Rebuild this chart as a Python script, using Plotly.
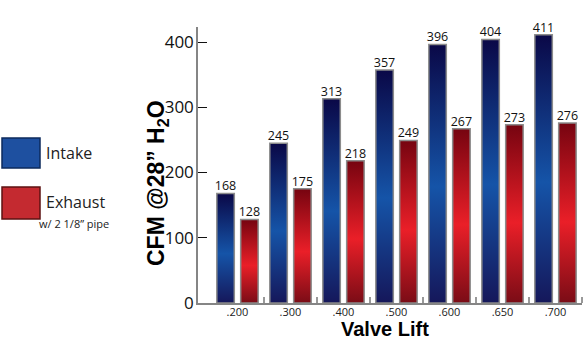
import plotly.graph_objects as go

categories = [".200", ".300", ".400", ".500", ".600", ".650", ".700"]
intake = [168, 245, 313, 357, 396, 404, 411]
exhaust = [128, 175, 218, 249, 267, 273, 276]
y_ticks = [0, 100, 200, 300, 400]

BAR_W = 0.33
OFF = 0.225
blue_scale = [[0, "#15175a"], [0.45, "#1554a8"], [1, "#0a0847"]]
red_scale = [[0, "#7a0c16"], [0.45, "#ea1f28"], [1, "#760410"]]

fig = go.Figure()

def add_bars(values, offset, scale):
    for i, v in enumerate(values):
        c = i + offset
        xs = [c - BAR_W / 2, c - BAR_W / 2, c + BAR_W / 2, c + BAR_W / 2, c - BAR_W / 2]
        ys = [0, v, v, 0, 0]
        fig.add_trace(go.Scatter(
            x=xs, y=ys, mode="lines", fill="toself",
            line=dict(color="#8c8c8c", width=1.5),
            fillgradient=dict(type="vertical", colorscale=scale),
            showlegend=False, hoverinfo="skip"))
    fig.add_trace(go.Scatter(
        x=[i + offset for i in range(len(values))], y=values,
        mode="text", text=[str(v) for v in values], textposition="top center",
        textfont=dict(family="Open Sans", size=12.5, color="#111"),
        cliponaxis=False,
        showlegend=False, hoverinfo="skip"))

add_bars(intake, -OFF, blue_scale)
add_bars(exhaust, OFF, red_scale)

fig.update_layout(
    width=586, height=344,
    margin=dict(l=198, r=4, t=27, b=41),
    paper_bgcolor="white", plot_bgcolor="white",
    showlegend=False,
    xaxis=dict(
        range=[-0.745, 6.5], tickmode="array",
        tickvals=list(range(len(categories))), ticktext=categories,
        ticks="", showgrid=False, zeroline=False,
        showline=True, linecolor="#858585", linewidth=1.5,
        tickfont=dict(family="Open Sans", size=11, color="#222"),
        ticklabelstandoff=-2,
        minor=dict(tickvals=[i + 0.5 for i in range(len(categories))],
                   ticks="inside", ticklen=6, tickcolor="#999", tickwidth=1.5,
                   showgrid=False),
    ),
    yaxis=dict(
        range=[0, 423], tickmode="array", tickvals=y_ticks,
        ticks="inside", ticklen=9, tickcolor="#111", tickwidth=1,
        showgrid=False, zeroline=False,
        showline=True, linecolor="#858585", linewidth=1.5,
        tickfont=dict(family="Open Sans", size=17, color="#111"),
        ticklabelstandoff=-1,
    ),
)

# axis titles
fig.add_annotation(text="Valve Lift", xref="paper", yref="paper",
                   x=0.487, y=-0.095, showarrow=False, xanchor="center", yanchor="middle",
                   font=dict(family="Liberation Sans", size=20, color="#000", weight="bold"))
fig.add_annotation(text="CFM @28” H<sub>2</sub>O", xref="paper", yref="paper",
                   x=-0.104, y=0.435, showarrow=False, textangle=-90,
                   xanchor="center", yanchor="middle",
                   font=dict(family="Liberation Sans", size=23, color="#000", weight="bold"))

# legend
def px_x(p):
    return (p - 198) / 384

def px_y(p):
    return (303 - p) / 276

fig.add_shape(type="rect", xref="paper", yref="paper",
              x0=px_x(2), x1=px_x(40), y0=px_y(168), y1=px_y(138),
              fillcolor="#1e50a0", line=dict(color="#0d2a5c", width=1.5))
fig.add_shape(type="rect", xref="paper", yref="paper",
              x0=px_x(2), x1=px_x(40), y0=px_y(219), y1=px_y(187),
              fillcolor="#c42a30", line=dict(color="#5c1212", width=1.5))
fig.add_annotation(text="Intake", xref="paper", yref="paper", x=px_x(44), y=px_y(153),
                   xanchor="left", yanchor="middle", showarrow=False,
                   font=dict(family="Open Sans", size=16, color="#222"))
fig.add_annotation(text="Exhaust", xref="paper", yref="paper", x=px_x(44), y=px_y(202),
                   xanchor="left", yanchor="middle", showarrow=False,
                   font=dict(family="Open Sans", size=16, color="#222"))
fig.add_annotation(text="w/ 2 1/8” pipe", xref="paper", yref="paper", x=px_x(37), y=px_y(223),
                   xanchor="left", yanchor="middle", showarrow=False,
                   font=dict(family="Open Sans", size=11, color="#222"))

fig.write_html("out.html")
